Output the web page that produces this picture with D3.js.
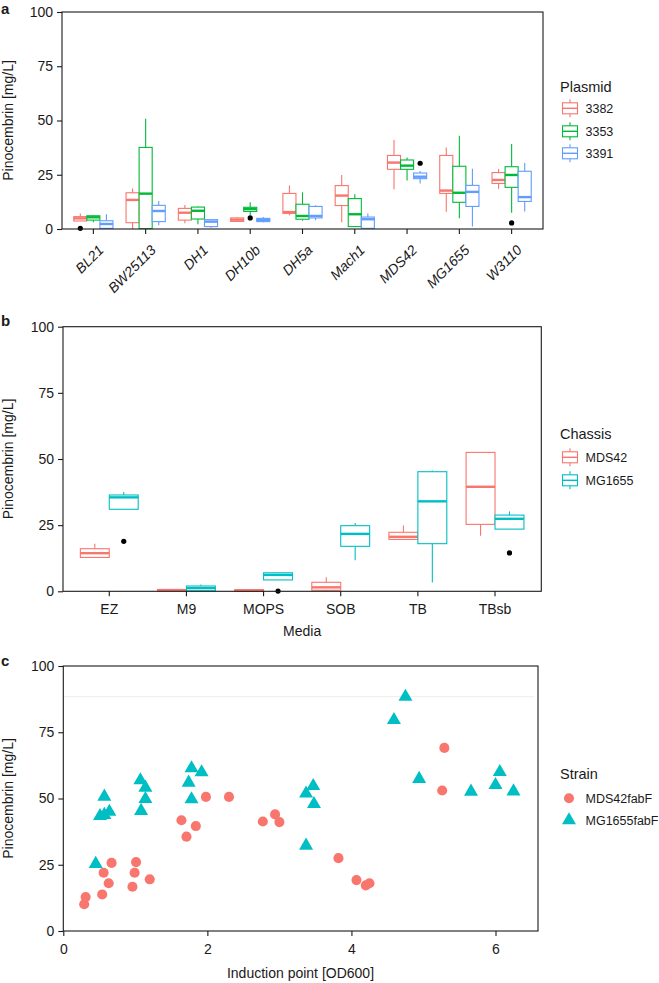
<!DOCTYPE html>
<html>
<head>
<meta charset="utf-8">
<script src="https://cdn.jsdelivr.net/npm/d3@7"></script>
<style>
  body { margin: 0; background: #fff; }
  svg text { font-family: "Liberation Sans", Arial, sans-serif; fill: #1a1a1a; }
</style>
</head>
<body>
<svg id="chart" width="659" height="983"></svg>
<script>
// ---- panel a: strain x plasmid ----
const strainsA = ["BL21", "BW25113", "DH1", "DH10b", "DH5a", "Mach1", "MDS42", "MG1655", "W3110"];
const plasmids = ["3382", "3353", "3391"];
// each row: [lower whisker, q1, median, q3, upper whisker]
const box3382 = [
  [3.7, 3.7, 4.9, 5.7, 7.2],
  [0, 2.9, 13.4, 16.7, 18.7],
  [2.6, 4.1, 7.5, 9.5, 11.1],
  [3.2, 3.5, 4.3, 5.1, 5.4],
  [6.3, 7.2, 7.8, 16.4, 20.0],
  [3.1, 10.8, 15.4, 20.0, 24.9],
  [18.3, 27.5, 30.6, 33.9, 41.0],
  [8.0, 16.4, 17.7, 33.9, 37.6],
  [18.6, 21.0, 22.6, 26.0, 27.6]
];
const box3353 = [
  [3.1, 4.1, 5.4, 6.1, 6.5],
  [0, 0.2, 16.3, 37.6, 50.8],
  [2.2, 4.6, 8.4, 10.1, 10.4],
  [6.3, 8.1, 9.2, 10.0, 12.3],
  [3.8, 4.5, 6.0, 11.4, 16.9],
  [1.1, 1.1, 6.8, 14.0, 16.0],
  [22.3, 27.5, 29.2, 31.8, 33.0],
  [4.9, 12.3, 16.7, 28.9, 43.0],
  [7.5, 19.2, 24.9, 28.7, 39.2]
];
const box3391 = [
  [0, 0.3, 2.3, 3.8, 6.8],
  [1.7, 3.4, 8.3, 10.9, 12.9],
  [0.6, 1.1, 3.4, 4.3, 4.6],
  [3.1, 3.4, 4.1, 4.9, 5.5],
  [4.0, 5.1, 6.0, 10.4, 10.9],
  [0.3, 0.3, 4.5, 5.5, 7.2],
  [21.0, 23.2, 24.1, 25.8, 26.7],
  [1.1, 10.4, 17.1, 20.1, 27.8],
  [8.1, 12.7, 14.7, 26.6, 30.4]
];
const outliersA = [["BL21", "3382", 0.3], ["DH10b", "3353", 5.1], ["MDS42", "3391", 30.3], ["W3110", "3353", 2.8]];

// ---- panel b: media x chassis ----
const media = ["EZ", "M9", "MOPS", "SOB", "TB", "TBsb"];
const chassis = ["MDS42", "MG1655"];
const boxMDS42 = [
  [12.8, 12.8, 14.4, 16.1, 18.0],
  [0.2, 0.3, 0.4, 0.7, 0.9],
  [0, 0, 0.3, 0.6, 0.6],
  [0, 0.4, 1.5, 3.4, 5.3],
  [19.6, 19.6, 20.6, 22.3, 24.9],
  [21.0, 25.3, 39.5, 52.5, 52.5]
];
const boxMG1655 = [
  [31.0, 31.0, 35.5, 36.4, 37.5],
  [0, 0.2, 1.2, 2.0, 2.6],
  [4.3, 4.3, 6.2, 7.0, 7.2],
  [11.7, 17.0, 21.7, 24.8, 25.8],
  [3.3, 18.0, 34.0, 45.2, 45.7],
  [23.5, 23.5, 27.4, 28.8, 30.2]
];
const outliersB = [["EZ", "MG1655", 18.9], ["MOPS", "MG1655", 0.1], ["TBsb", "MG1655", 14.5]];

// ---- panel c: induction point scatter ----
const strainsC = ["MDS42fabF", "MG1655fabF"];
const indMDS42 = [0.29, 0.31, 0.54, 0.56, 0.63, 0.67, 0.96, 0.99, 1.01, 1.20, 1.64, 1.71, 1.84, 1.98, 2.30, 2.77, 2.94, 3.00, 3.82, 4.07, 4.20, 4.25, 5.26, 5.29];
const pinoMDS42 = [10.1, 12.8, 13.8, 22.0, 18.0, 25.7, 16.7, 22.0, 26.0, 19.5, 41.8, 35.6, 39.6, 50.6, 50.6, 41.3, 44.0, 41.1, 27.5, 19.2, 17.2, 18.0, 53.0, 69.1];
const indMG1655 = [0.45, 0.51, 0.57, 0.57, 0.64, 1.07, 1.08, 1.14, 1.14, 1.74, 1.78, 1.78, 1.92, 3.37, 3.37, 3.47, 3.48, 4.59, 4.75, 4.94, 5.66, 6.00, 6.06, 6.25];
const pinoMG1655 = [25.3, 43.4, 43.8, 50.7, 45.0, 56.9, 45.3, 54.1, 49.8, 56.0, 61.4, 49.7, 59.9, 51.9, 32.2, 54.7, 47.9, 79.6, 88.4, 57.4, 52.6, 55.1, 60.0, 52.7];

const yTicks = [0, 25, 50, 75, 100];
const xTicksC = [0, 2, 4, 6];
const yTitle = "Pinocembrin [mg/L]";

const svg = d3.select("#chart");

function frame(x0, x1, y0, y1) {
  svg.append("rect")
    .attr("x", x0).attr("y", y0)
    .attr("width", x1 - x0).attr("height", y1 - y0)
    .attr("fill", "none").attr("stroke", "#1a1a1a").attr("stroke-width", 1.1);
}

function styleAxis(g) {
  g.select(".domain").remove();
  g.selectAll(".tick line").attr("stroke", "#1a1a1a").attr("stroke-width", 1.1);
  g.selectAll("text").attr("font-size", 14).attr("font-family", null).attr("fill", "#1a1a1a");
  return g;
}

function yAxis(y, x0, y0, y1) {
  styleAxis(svg.append("g").attr("transform", `translate(${x0},0)`)
    .call(d3.axisLeft(y).tickValues(yTicks).tickSize(5).tickPadding(4)));
  svg.append("text")
    .attr("transform", `translate(13,${(y0 + y1) / 2}) rotate(-90)`)
    .attr("text-anchor", "middle").attr("font-size", 14)
    .text(yTitle);
}

function xAxisG(axis, y0) {
  return styleAxis(svg.append("g").attr("transform", `translate(0,${y0})`)
    .call(axis.tickSize(5).tickPadding(8)));
}

function drawBoxes(x, sub, y, cats, group, stats, color) {
  const g = svg.append("g");
  stats.forEach((s, i) => {
    const left = x(cats[i]) + x.bandwidth() / 2 + sub(group);
    const w = sub.bandwidth();
    const cx = left + w / 2;
    g.append("line").attr("x1", cx).attr("x2", cx)
      .attr("y1", y(s[3])).attr("y2", y(s[4])).attr("stroke", color).attr("stroke-width", 1.1);
    g.append("line").attr("x1", cx).attr("x2", cx)
      .attr("y1", y(s[1])).attr("y2", y(s[0])).attr("stroke", color).attr("stroke-width", 1.1);
    g.append("rect").attr("x", left).attr("width", w)
      .attr("y", y(s[3])).attr("height", Math.max(0, y(s[1]) - y(s[3])))
      .attr("fill", "#fff").attr("stroke", color).attr("stroke-width", 1.1);
    g.append("line").attr("x1", left).attr("x2", left + w)
      .attr("y1", y(s[2])).attr("y2", y(s[2])).attr("stroke", color).attr("stroke-width", 2.4);
  });
}

function drawOutliers(x, sub, y, list) {
  svg.append("g").selectAll("circle").data(list).join("circle")
    .attr("cx", d => x(d[0]) + x.bandwidth() / 2 + sub(d[1]) + sub.bandwidth() / 2)
    .attr("cy", d => y(d[2]))
    .attr("r", 2.6).attr("fill", "#000");
}

function boxKey(cx, cy, color) {
  const g = svg.append("g");
  g.append("line").attr("x1", cx).attr("x2", cx).attr("y1", cy - 9).attr("y2", cy + 9)
    .attr("stroke", color).attr("stroke-width", 1.1);
  g.append("rect").attr("x", cx - 7.5).attr("y", cy - 5.5).attr("width", 15).attr("height", 11)
    .attr("fill", "#fff").attr("stroke", color).attr("stroke-width", 1.1);
  g.append("line").attr("x1", cx - 7.5).attr("x2", cx + 7.5).attr("y1", cy).attr("y2", cy)
    .attr("stroke", color).attr("stroke-width", 1.4);
}

function legend(title, titleY, labels, keyYs, drawKey) {
  svg.append("text").attr("x", 560).attr("y", titleY).attr("font-size", 14.5).text(title);
  labels.forEach((l, i) => {
    drawKey(570, keyYs[i], i);
    svg.append("text").attr("x", 585.5).attr("y", keyYs[i] + 4.5).attr("font-size", 12.5).text(l);
  });
}

function panelLabel(t, y) {
  svg.append("text").attr("x", 1).attr("y", y).attr("font-size", 15)
    .attr("font-weight", "bold").attr("fill", "#000").text(t);
}

// ================= panel a =================
{
  const L = 62, R = 543, T = 12, B = 229;
  const colors = d3.scaleOrdinal().domain(plasmids).range(["#F8766D", "#00BA38", "#619CFF"]);
  const x = d3.scaleBand().domain(strainsA).range([L, R]).paddingInner(0).paddingOuter(0.1);
  const sub = d3.scaleBand().domain(plasmids).range([-0.375 * x.step(), 0.375 * x.step()]);
  const y = d3.scaleLinear().domain([0, 100]).range([B, T]);

  [box3382, box3353, box3391].forEach((s, i) => drawBoxes(x, sub, y, strainsA, plasmids[i], s, colors(plasmids[i])));
  drawOutliers(x, sub, y, outliersA);
  frame(L, R, T, B);
  yAxis(y, L, T, B);

  xAxisG(d3.axisBottom(x), B).selectAll(".tick text")
    .attr("y", null)
    .attr("transform", "translate(4,15) rotate(-45)")
    .attr("dy", "0.71em")
    .attr("text-anchor", "end")
    .attr("font-style", "italic");

  legend("Plasmid", 92, plasmids, [108.3, 131.3, 153.3], (cx, cy, i) => boxKey(cx, cy, colors(plasmids[i])));
  panelLabel("a", 14);
}

// ================= panel b =================
{
  const L = 63, R = 541.3, T = 326.7, B = 591.3;
  const colors = d3.scaleOrdinal().domain(chassis).range(["#F8766D", "#00BFC4"]);
  const x = d3.scaleBand().domain(media).range([L, R]).paddingInner(0).paddingOuter(0.1);
  const sub = d3.scaleBand().domain(chassis).range([-0.375 * x.step(), 0.375 * x.step()]);
  const y = d3.scaleLinear().domain([0, 100]).range([B, T]);

  [boxMDS42, boxMG1655].forEach((s, i) => drawBoxes(x, sub, y, media, chassis[i], s, colors(chassis[i])));
  drawOutliers(x, sub, y, outliersB);
  frame(L, R, T, B);
  yAxis(y, L, T, B);
  xAxisG(d3.axisBottom(x), B);
  svg.append("text").attr("x", (L + R) / 2).attr("y", 636).attr("text-anchor", "middle")
    .attr("font-size", 14).text("Media");

  legend("Chassis", 439, chassis, [457.3, 480.3], (cx, cy, i) => boxKey(cx, cy, colors(chassis[i])));
  panelLabel("b", 326);
}

// ================= panel c =================
{
  const L = 63.3, R = 538, T = 666, B = 931;
  const colors = d3.scaleOrdinal().domain(strainsC).range(["#F8766D", "#00BFC4"]);
  const x = d3.scaleLinear().domain([0, 6.59]).range([L, R]);
  const y = d3.scaleLinear().domain([0, 100]).range([B, T]);
  const circle = d3.symbol().type(d3.symbolCircle).size(80);
  const tri = d3.symbol().type(d3.symbolTriangle).size(85);

  // faint reference line at the maximum
  svg.append("line").attr("x1", L).attr("x2", R - 4)
    .attr("y1", y(d3.max(pinoMG1655))).attr("y2", y(d3.max(pinoMG1655)))
    .attr("stroke", "#ececec").attr("stroke-width", 1);

  svg.append("g").selectAll("path").data(d3.zip(indMDS42, pinoMDS42)).join("path")
    .attr("d", circle).attr("transform", d => `translate(${x(d[0])},${y(d[1])})`)
    .attr("fill", colors("MDS42fabF"));
  svg.append("g").selectAll("path").data(d3.zip(indMG1655, pinoMG1655)).join("path")
    .attr("d", tri).attr("transform", d => `translate(${x(d[0])},${y(d[1])})`)
    .attr("fill", colors("MG1655fabF"));

  frame(L, R, T, B);
  yAxis(y, L, T, B);
  xAxisG(d3.axisBottom(x).tickValues(xTicksC).tickFormat(d3.format("d")), B);
  svg.append("text").attr("x", 300.5).attr("y", 978).attr("text-anchor", "middle")
    .attr("font-size", 14).text("Induction point [OD600]");

  legend("Strain", 779, strainsC, [798.3, 820.3], (cx, cy, i) => {
    svg.append("path").attr("d", i === 0 ? circle : tri)
      .attr("transform", `translate(${cx - 1},${cy})`)
      .attr("fill", colors(strainsC[i]));
  });
  panelLabel("c", 666);
}
</script>
</body>
</html>
